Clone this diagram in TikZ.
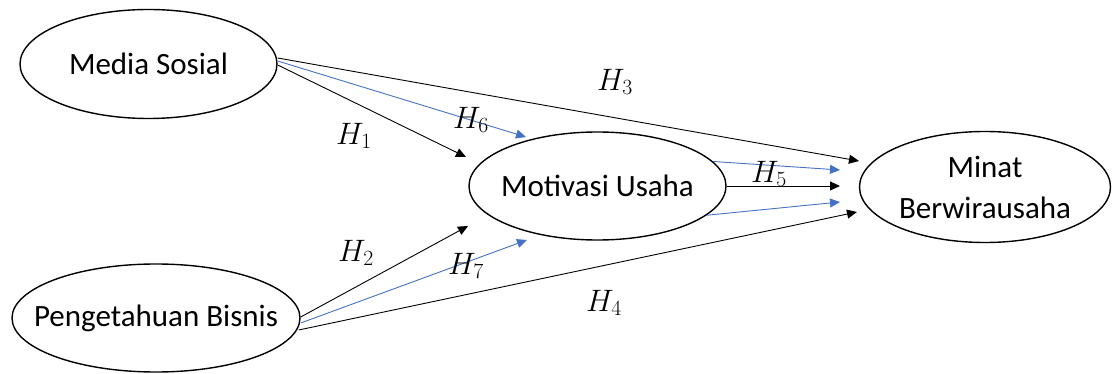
\RequirePackage{fix-cm}
\documentclass[tikz,border=0pt]{standalone}
\usepackage{fontspec}
\setmainfont{Carlito}
\usetikzlibrary{shapes.geometric,arrows.meta}
\definecolor{oblue}{HTML}{4472C4}
\tikzset{
  ell/.style={ellipse, draw=black, line width=1.4pt, inner xsep=-30pt, inner ysep=0pt, align=center,
    font=\fontsize{31}{41}\selectfont},
  arr/.style={-{Triangle[length=10pt,width=9pt]}, line width=0.9pt, draw=black},
  barr/.style={arr, draw=oblue, -{Triangle[length=10pt,width=9pt,fill=oblue]}},
  hlab/.style={inner sep=0pt, font=\fontsize{31}{34}\selectfont}
}
\begin{document}
\begin{tikzpicture}[x=1pt,y=-1pt]
\useasboundingbox (0,0) rectangle (1112,374);
\node[ell, minimum width=257pt, minimum height=109pt] (ms) at (148.5,64) {Media Sosial};
\node[ell, minimum width=288pt, minimum height=108pt] (pb) at (156,318) {Pengetahuan Bisnis};
\node[ell, minimum width=257pt, minimum height=108pt] (mu) at (597.5,186) {Motivasi Usaha};
\node[ell, minimum width=251pt, minimum height=111pt] (mb) at (985,187) {Minat\\Berwirausaha};
\coordinate (c3) at (859,161);
\coordinate (c6) at (526,137);
\coordinate (c1) at (466,157);
\coordinate (c2) at (468,226);
\coordinate (c7) at (527,240);
\coordinate (c4) at (857,212);
\coordinate (c5a) at (840,170);
\coordinate (c5) at (840,186);
\coordinate (c5b) at (840,202);
\draw[arr] ([yshift=6pt]ms.east) -- (c3);
\draw[barr] ([yshift=3pt]ms.east) -- (c6);
\draw[arr] ([yshift=-1pt]ms.east) -- (c1);
\draw[arr] ([yshift=1pt]pb.east) -- (c2);
\draw[barr] ([yshift=-5pt]pb.east) -- (c7);
\draw[arr] ([yshift=-12pt,xshift=-2pt]pb.east) -- (c4);
\draw[barr] (mu.12) -- (c5a);
\draw[arr] (mu.east) -- (c5);
\draw[barr] (mu.-15) -- (c5b);
\node[hlab] (h3) at (615,82) {$H_3$};
\node[hlab] (h1) at (354,136) {$H_1$};
\node[hlab] (h6) at (471,120) {$H_6$};
\node[hlab] (h5) at (769,174) {$H_5$};
\node[hlab] (h2) at (356,253) {$H_2$};
\node[hlab] (h7) at (466,266) {$H_7$};
\node[hlab] (h4) at (604,303) {$H_4$};
\end{tikzpicture}
\end{document}
